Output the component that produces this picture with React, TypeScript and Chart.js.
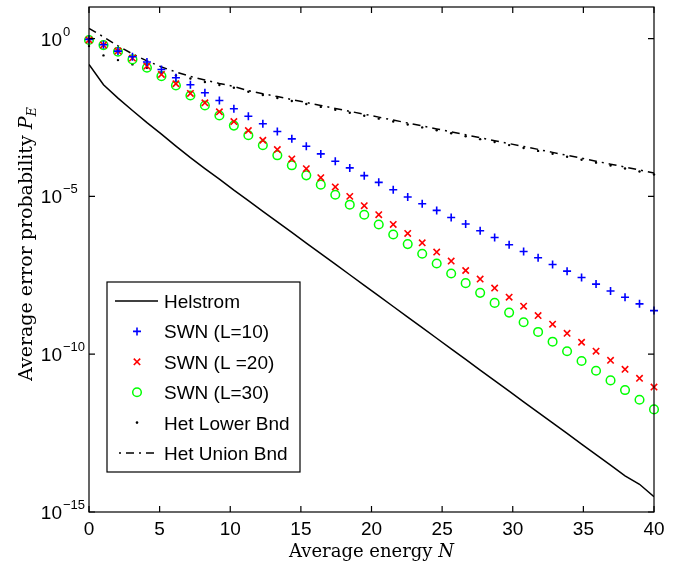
import React, { useEffect, useRef } from 'react';
import { Chart, registerables } from 'chart.js';

Chart.register(...registerables);

// Average energy N (40 samples from 0 to 40)
const ENERGY = [0, 1.0256, 2.0513, 3.0769, 4.1026, 5.1282, 6.1538, 7.1795, 8.2051, 9.2308, 10.2564, 11.2821, 12.3077, 13.3333, 14.359, 15.3846, 16.4103, 17.4359, 18.4615, 19.4872, 20.5128, 21.5385, 22.5641, 23.5897, 24.6154, 25.641, 26.6667, 27.6923, 28.7179, 29.7436, 30.7692, 31.7949, 32.8205, 33.8462, 34.8718, 35.8974, 36.9231, 37.9487, 38.9744, 40];

const HELSTROM = [0.152, 0.0344, 0.013, 5.26e-3, 2.17e-3, 9.43e-4, 3.93e-4, 1.69e-4, 7.57e-5, 3.51e-5, 1.57e-5, 7.3e-6, 3.37e-6, 1.56e-6, 7.2e-7, 3.32e-7, 1.54e-7, 7.1e-8, 3.29e-8, 1.52e-8, 6.99e-9, 3.24e-9, 1.5e-9, 6.94e-10, 3.2e-10, 1.47e-10, 6.84e-11, 3.15e-11, 1.46e-11, 6.74e-12, 3.1e-12, 1.44e-12, 6.64e-13, 3.08e-13, 1.42e-13, 6.55e-14, 3.04e-14, 1.4e-14, 7.57e-15, 3.04e-15];

const SWN_L10 = [0.94, 0.64, 0.40, 0.266, 0.18, 0.105, 0.0574, 0.0344, 0.0192, 0.0109, 5.95e-3, 3.47e-3, 1.99e-3, 1.13e-3, 6.64e-4, 3.86e-4, 2.22e-4, 1.29e-4, 7.97e-5, 4.54e-5, 2.78e-5, 1.63e-5, 9.57e-6, 5.87e-6, 3.59e-6, 2.15e-6, 1.33e-6, 8.15e-7, 4.99e-7, 2.93e-7, 1.79e-7, 1.13e-7, 6.94e-8, 4.28e-8, 2.69e-8, 1.66e-8, 1.01e-8, 6.4e-9, 3.93e-9, 2.4e-9];

const SWN_L20 = [0.90, 0.62, 0.40, 0.24, 0.134, 0.073, 0.037, 0.0182, 9.2e-3, 4.78e-3, 2.35e-3, 1.22e-3, 6.0e-4, 3.04e-4, 1.54e-4, 7.57e-5, 3.92e-5, 1.99e-5, 1.0e-5, 5.07e-6, 2.62e-6, 1.29e-6, 6.69e-7, 3.39e-7, 1.72e-7, 8.9e-8, 4.48e-8, 2.39e-8, 1.24e-8, 6.4e-9, 3.32e-9, 1.67e-9, 8.9e-10, 4.6e-10, 2.39e-10, 1.24e-10, 6.4e-11, 3.32e-11, 1.72e-11, 9.1e-12];

const SWN_L30 = [0.90, 0.62, 0.384, 0.219, 0.119, 0.0645, 0.0327, 0.0157, 7.57e-3, 3.65e-3, 1.75e-3, 8.65e-4, 4.16e-4, 2.0e-4, 9.64e-5, 4.64e-5, 2.35e-5, 1.13e-5, 5.45e-6, 2.62e-6, 1.29e-6, 6.22e-7, 3.08e-7, 1.52e-7, 7.46e-8, 3.6e-8, 1.78e-8, 8.77e-9, 4.22e-9, 2.08e-9, 1.03e-9, 5.07e-10, 2.49e-10, 1.24e-10, 6.08e-11, 2.99e-11, 1.48e-11, 7.3e-12, 3.6e-12, 1.78e-12];

const HET_LOWER = [0.578, 0.293, 0.208, 0.152, 0.119, 0.0864, 0.0679, 0.0545, 0.0422, 0.0339, 0.0276, 0.0206, 0.0163, 0.0131, 0.0105, 8.45e-3, 6.84e-3, 5.53e-3, 4.48e-3, 3.6e-3, 2.9e-3, 2.35e-3, 1.89e-3, 1.53e-3, 1.24e-3, 1.0e-3, 8.03e-4, 6.5e-4, 5.26e-4, 4.22e-4, 3.41e-4, 2.76e-4, 2.23e-4, 1.8e-4, 1.45e-4, 1.17e-4, 9.44e-5, 7.63e-5, 6.17e-5, 4.95e-5];

const HET_UNION = [2.1, 1.13, 0.586, 0.327, 0.196, 0.126, 0.0877, 0.063, 0.0489, 0.0378, 0.0304, 0.0223, 0.0179, 0.0145, 0.0117, 9.44e-3, 7.63e-3, 6.12e-3, 4.95e-3, 4.01e-3, 3.24e-3, 2.61e-3, 2.11e-3, 1.71e-3, 1.37e-3, 1.11e-3, 8.96e-4, 7.25e-4, 5.82e-4, 4.71e-4, 3.81e-4, 3.08e-4, 2.48e-4, 2.0e-4, 1.62e-4, 1.3e-4, 1.05e-4, 8.51e-5, 6.84e-5, 5.53e-5];

const X_TICKS = [0, 5, 10, 15, 20, 25, 30, 35, 40];
const Y_TICKS = [1e0, 1e-5, 1e-10, 1e-15];
const Y_TICK_BASE = '10';
const Y_TICK_EXP = ['0', '\u22125', '\u221210', '\u221215'];

const SERIES_LABELS = ['Helstrom', 'SWN (L=10)', 'SWN (L =20)', 'SWN (L=30)', 'Het Lower Bnd', 'Het Union Bnd'];

const SANS = '"Liberation Sans", Arial, sans-serif';
const SERIF = '"DejaVu Serif", serif';
const UNION_DASH = [8, 5, 2, 5];

const toPts = (ys: number[]) => ys.map((y, i) => ({ x: ENERGY[i], y }));

type Kind = 'line' | 'plus' | 'xmark' | 'circle' | 'dot' | 'dashdot';
const LEGEND_KINDS: Kind[] = ['line', 'plus', 'xmark', 'circle', 'dot', 'dashdot'];
const LEGEND_COLORS = ['#000000', '#0000ff', '#ff0000', '#00ff00', '#000000', '#000000'];

const decorPlugin = {
  id: 'decor',
  afterDraw(chart: any) {
    const { ctx, chartArea, scales } = chart;
    const { left, right, top, bottom } = chartArea;
    const xs = scales.x;
    const ys = scales.y;
    ctx.save();
    ctx.strokeStyle = '#000';
    ctx.fillStyle = '#000';
    ctx.lineWidth = 1.2;
    ctx.setLineDash([]);
    ctx.strokeRect(left, top, right - left, bottom - top);

    const tl = 6;
    // x ticks
    ctx.font = '19px ' + SANS;
    ctx.textAlign = 'center';
    ctx.textBaseline = 'alphabetic';
    X_TICKS.forEach((v) => {
      const px = xs.getPixelForValue(v);
      ctx.beginPath();
      ctx.moveTo(px, bottom);
      ctx.lineTo(px, bottom - tl);
      ctx.moveTo(px, top);
      ctx.lineTo(px, top + tl);
      ctx.stroke();
      ctx.fillText(String(v), px, bottom + 23);
    });
    // y ticks
    Y_TICKS.forEach((v, i) => {
      const py = ys.getPixelForValue(v);
      ctx.beginPath();
      ctx.moveTo(left, py);
      ctx.lineTo(left + tl, py);
      ctx.moveTo(right, py);
      ctx.lineTo(right - tl, py);
      ctx.stroke();
      ctx.font = '19px ' + SANS;
      ctx.textAlign = 'right';
      ctx.fillText(Y_TICK_BASE, left - 27, py + 7);
      ctx.font = '13px ' + SANS;
      ctx.textAlign = 'left';
      ctx.fillText(Y_TICK_EXP[i], left - 26, py - 3);
    });

    // x title
    const cx = (left + right) / 2;
    ctx.font = '18px ' + SERIF;
    const t1 = 'Average energy ';
    const w1 = ctx.measureText(t1).width;
    ctx.font = 'italic 18px ' + SERIF;
    const wN = ctx.measureText('N').width;
    let sx = cx - (w1 + wN) / 2;
    ctx.textAlign = 'left';
    ctx.font = '18px ' + SERIF;
    ctx.fillText(t1, sx, 556.5);
    ctx.font = 'italic 18px ' + SERIF;
    ctx.fillText('N', sx + w1, 556.5);

    // y title
    ctx.save();
    ctx.translate(32, 244);
    ctx.rotate(-Math.PI / 2);
    const fs = 19;
    ctx.font = fs + 'px ' + SERIF;
    const y1 = 'Average error probability ';
    const wy1 = ctx.measureText(y1).width;
    ctx.font = 'italic ' + fs + 'px ' + SERIF;
    const wP = ctx.measureText('P').width;
    ctx.font = 'italic ' + Math.round(fs * 0.7) + 'px ' + SERIF;
    const wE = ctx.measureText('E').width;
    const tot = wy1 + wP + wE;
    let yx = -tot / 2;
    ctx.font = fs + 'px ' + SERIF;
    ctx.fillText(y1, yx, 0);
    ctx.font = 'italic ' + fs + 'px ' + SERIF;
    ctx.fillText('P', yx + wy1, 0);
    ctx.font = 'italic ' + Math.round(fs * 0.7) + 'px ' + SERIF;
    ctx.fillText('E', yx + wy1 + wP, 4);
    ctx.restore();

    // legend
    const lx = left + 18;
    const ly = top + 275;
    const lw = 193;
    const lh = 190;
    ctx.fillStyle = '#fff';
    ctx.fillRect(lx, ly, lw, lh);
    ctx.strokeStyle = '#000';
    ctx.lineWidth = 1.2;
    ctx.strokeRect(lx, ly, lw, lh);
    const rowH = 30.4;
    SERIES_LABELS.forEach((label, i) => {
      const cy = ly + 19 + i * rowH;
      const mx = lx + 30;
      const kind = LEGEND_KINDS[i];
      ctx.strokeStyle = LEGEND_COLORS[i];
      ctx.fillStyle = LEGEND_COLORS[i];
      ctx.setLineDash([]);
      ctx.beginPath();
      if (kind === 'line') {
        ctx.lineWidth = 1.5;
        ctx.moveTo(lx + 8, cy);
        ctx.lineTo(lx + 51, cy);
        ctx.stroke();
      } else if (kind === 'dashdot') {
        ctx.lineWidth = 1.5;
        ctx.setLineDash(UNION_DASH);
        ctx.lineDashOffset = 9;
        ctx.moveTo(lx + 8, cy);
        ctx.lineTo(lx + 51, cy);
        ctx.stroke();
        ctx.setLineDash([]);
      } else if (kind === 'plus') {
        ctx.lineWidth = 1.6;
        ctx.moveTo(mx - 4, cy);
        ctx.lineTo(mx + 4, cy);
        ctx.moveTo(mx, cy - 4);
        ctx.lineTo(mx, cy + 4);
        ctx.stroke();
      } else if (kind === 'xmark') {
        ctx.lineWidth = 1.6;
        const d = 3.2;
        ctx.moveTo(mx - d, cy - d);
        ctx.lineTo(mx + d, cy + d);
        ctx.moveTo(mx - d, cy + d);
        ctx.lineTo(mx + d, cy - d);
        ctx.stroke();
      } else if (kind === 'circle') {
        ctx.lineWidth = 1.5;
        ctx.arc(mx, cy, 4.3, 0, Math.PI * 2);
        ctx.stroke();
      } else if (kind === 'dot') {
        ctx.arc(mx, cy, 1.3, 0, Math.PI * 2);
        ctx.fill();
      }
      ctx.fillStyle = '#000';
      ctx.font = '19px ' + SANS;
      ctx.textAlign = 'left';
      ctx.fillText(label, lx + 57, cy + 7);
    });
    ctx.restore();
  },
};

export default function App() {
  const ref = useRef<HTMLCanvasElement>(null);
  useEffect(() => {
    const canvas = ref.current;
    if (!canvas) return;
    const chart = new Chart(canvas, {
      type: 'line',
      data: {
        datasets: [
          {
            label: SERIES_LABELS[0],
            data: toPts(HELSTROM),
            borderColor: '#000',
            borderWidth: 1.5,
            pointRadius: 0,
            fill: false,
            tension: 0,
          },
          {
            label: SERIES_LABELS[1],
            data: toPts(SWN_L10),
            showLine: false,
            pointStyle: 'cross',
            pointRadius: 4,
            pointBorderWidth: 1.6,
            pointBorderColor: '#0000ff',
            borderColor: '#0000ff',
            clip: false as any,
          },
          {
            label: SERIES_LABELS[2],
            data: toPts(SWN_L20),
            showLine: false,
            pointStyle: 'crossRot',
            pointRadius: 4.5,
            pointBorderWidth: 1.6,
            pointBorderColor: '#ff0000',
            borderColor: '#ff0000',
            clip: false as any,
          },
          {
            label: SERIES_LABELS[3],
            data: toPts(SWN_L30),
            showLine: false,
            pointStyle: 'circle',
            pointRadius: 4.3,
            pointBorderWidth: 1.5,
            pointBorderColor: '#00ff00',
            pointBackgroundColor: 'rgba(0,0,0,0)',
            borderColor: '#00ff00',
            clip: false as any,
          },
          {
            label: SERIES_LABELS[4],
            data: toPts(HET_LOWER),
            showLine: false,
            pointStyle: 'circle',
            pointRadius: 1.2,
            pointBorderWidth: 0,
            pointBackgroundColor: '#000',
            pointBorderColor: '#000',
            borderColor: '#000',
            clip: false as any,
          },
          {
            label: SERIES_LABELS[5],
            data: toPts(HET_UNION),
            borderColor: '#000',
            borderWidth: 1.5,
            borderDash: UNION_DASH,
            pointRadius: 0,
            fill: false,
            tension: 0,
          },
        ],
      },
      options: {
        responsive: false,
        devicePixelRatio: 1,
        animation: false,
        events: [],
        layout: { padding: { left: 0, right: 31, top: 7, bottom: 0 } },
        plugins: {
          legend: { display: false },
          tooltip: { enabled: false },
          title: { display: false },
        },
        scales: {
          x: {
            type: 'linear',
            min: 0,
            max: 40,
            grid: { display: false },
            border: { display: false },
            ticks: { display: false },
            afterFit: (s: any) => {
              s.height = 53;
            },
          },
          y: {
            type: 'logarithmic',
            min: 1e-15,
            max: 10,
            grid: { display: false },
            border: { display: false },
            ticks: { display: false },
            afterFit: (s: any) => {
              s.width = 89;
            },
          },
        },
      },
      plugins: [decorPlugin],
    });
    return () => chart.destroy();
  }, []);
  return (
    <div style={{ position: 'fixed', left: 0, top: 0, width: 685, height: 565, background: '#fff' }}>
      <canvas ref={ref} width={685} height={565} style={{ display: 'block', width: 685, height: 565 }} />
    </div>
  );
}
